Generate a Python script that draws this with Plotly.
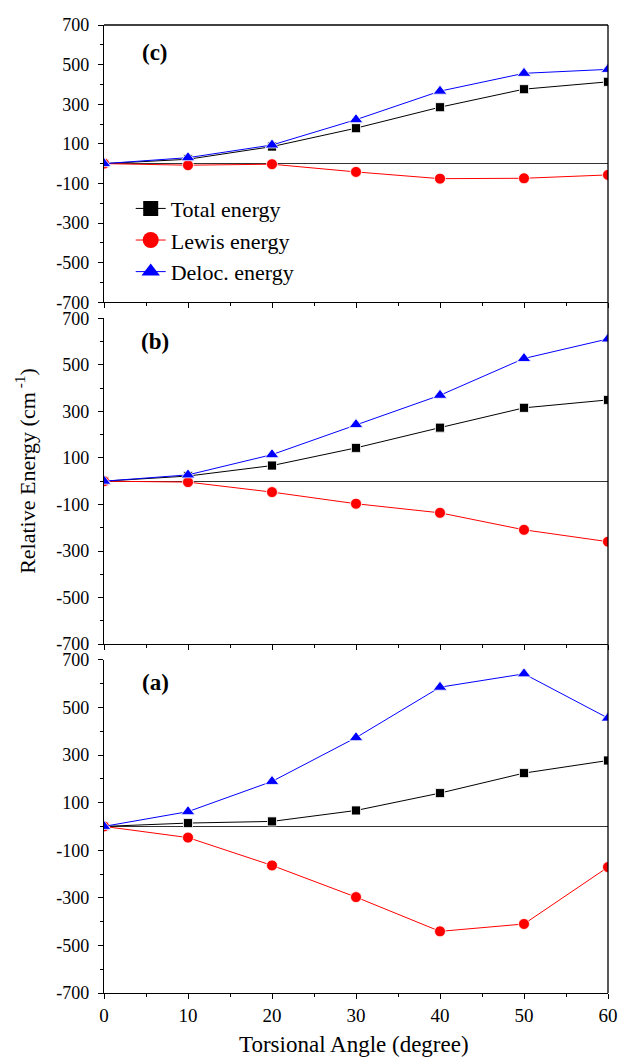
import plotly.graph_objects as go

angles = [0, 10, 20, 30, 40, 50, 60]

# Panel (c)
c_total = [0, 22, 86, 179, 285, 376, 413]
c_lewis = [0, -8, -3, -42, -76, -74, -57]
c_deloc = [0, 30, 94, 222, 366, 456, 476]

# Panel (b)
b_total = [0, 22, 67, 143, 230, 315, 349]
b_lewis = [0, -4, -47, -97, -136, -209, -260]
b_deloc = [0, 27, 114, 243, 369, 527, 611]

# Panel (a)
a_total = [0, 14, 21, 67, 140, 224, 277]
a_lewis = [0, -47, -164, -297, -441, -410, -171]
a_deloc = [0, 62, 189, 373, 585, 641, 455]

series_names = ["Total energy", "Lewis energy", "Deloc. energy"]
colors = ["#000000", "#ff0000", "#0000ff"]
symbols = ["square", "circle", "triangle-up"]
sizes = [9, 11, 12]

y_ticks = [-700, -500, -300, -100, 100, 300, 500, 700]
y_minor = [-600, -400, -200, 0, 200, 400, 600]
x_ticks = [0, 10, 20, 30, 40, 50, 60]

FONT = "Liberation Serif"

fig = go.Figure()

panels = [
    ("x", "y", [a_total, a_lewis, a_deloc]),
    ("x2", "y2", [b_total, b_lewis, b_deloc]),
    ("x3", "y3", [c_total, c_lewis, c_deloc]),
]

for xa, ya, data in panels:
    for i, vals in enumerate(data):
        fig.add_trace(go.Scatter(
            x=angles, y=vals, xaxis=xa, yaxis=ya, mode="lines+markers",
            line=dict(color=colors[i], width=1),
            marker=dict(symbol=symbols[i], size=sizes[i], color=colors[i],
                        line=dict(color="white", width=0.8)),
            showlegend=False, name=series_names[i],
        ))

# legend-only entries with larger markers
leg_sizes = [15, 17, 18]
for i in range(3):
    fig.add_trace(go.Scatter(
        x=[None], y=[None], xaxis="x3", yaxis="y3", mode="lines+markers",
        line=dict(color=colors[i], width=1),
        marker=dict(symbol=symbols[i], size=leg_sizes[i], color=colors[i]),
        name=series_names[i], showlegend=True,
    ))

def xaxis_cfg(anchor, labels):
    return dict(
        domain=[0, 1], anchor=anchor, range=[0, 60], automargin=False,
        tickmode="array", tickvals=x_ticks,
        showticklabels=labels, ticklabeloverflow="allow",
        ticks="outside", ticklen=5, tickwidth=1, tickcolor="black",
        minor=dict(dtick=5, tick0=0, ticks="outside", ticklen=3, tickcolor="black", tickwidth=1),
        showline=True, linecolor="black", linewidth=1.3,
        showgrid=False, zeroline=False,
        tickfont=dict(family=FONT, size=19, color="black"),
    )

def yaxis_cfg(anchor, domain):
    return dict(
        domain=domain, anchor=anchor, range=[-700, 700], automargin=False,
        tickmode="array", tickvals=y_ticks, ticktext=[str(v) for v in y_ticks],
        ticks="outside", ticklen=5, tickwidth=1, tickcolor="black",
        ticklabelstandoff=5, ticklabeloverflow="allow",
        minor=dict(tickmode="array", tickvals=y_minor,
                   ticks="outside", ticklen=3, tickcolor="black", tickwidth=1),
        showline=True, linecolor="black", linewidth=1.3,
        showgrid=False, zeroline=True, zerolinecolor="#333333", zerolinewidth=1,
        tickfont=dict(family=FONT, size=18, color="black"),
    )

fig.update_layout(
    width=624, height=1058,
    margin=dict(l=104, r=16, t=25, b=65, autoexpand=False),
    paper_bgcolor="white", plot_bgcolor="white",
    xaxis=xaxis_cfg("y", True),
    xaxis2=xaxis_cfg("y2", False),
    xaxis3=xaxis_cfg("y3", False),
    yaxis=yaxis_cfg("x", [0, 0.3442]),
    yaxis2=yaxis_cfg("x2", [0.3604, 0.6971]),
    yaxis3=yaxis_cfg("x3", [0.7136, 1.0]),
    legend=dict(x=0.053, y=0.832, xanchor="left", yanchor="top",
                font=dict(family=FONT, size=22, color="black"),
                bgcolor="rgba(0,0,0,0)", borderwidth=0, tracegroupgap=0,
                itemsizing="trace"),
    font=dict(family=FONT, color="black"),
)

# frame: top of (c), continuous right border
fig.add_shape(type="line", xref="paper", yref="paper", x0=0, x1=1, y0=1, y1=1,
              line=dict(color="black", width=1.3))
fig.add_shape(type="line", xref="paper", yref="paper", x0=1, x1=1, y0=0, y1=1,
              line=dict(color="black", width=1.3))

# panel labels
for txt, yp in [("(c)", 0.972), ("(b)", 0.673), ("(a)", 0.321)]:
    fig.add_annotation(text="<b>%s</b>" % txt, xref="paper", yref="paper",
                       x=0.102, y=yp, xanchor="center", yanchor="middle",
                       showarrow=False, font=dict(family=FONT, size=23, color="black"))

# axis titles
fig.add_annotation(text="Relative Energy (cm<sup> -1</sup>)", xref="paper", yref="paper",
                   x=-0.1556, y=0.539, xanchor="center", yanchor="middle", textangle=-90,
                   showarrow=False, font=dict(family=FONT, size=22, color="black"))
fig.add_annotation(text="Torsional Angle (degree)", xref="paper", yref="paper",
                   x=0.496, y=-0.0534, xanchor="center", yanchor="middle",
                   showarrow=False, font=dict(family=FONT, size=23, color="black"))

fig.write_html("out.html", config={"displayModeBar": False},
               post_script="document.body.style.margin='0px';document.body.style.overflow='hidden';")
